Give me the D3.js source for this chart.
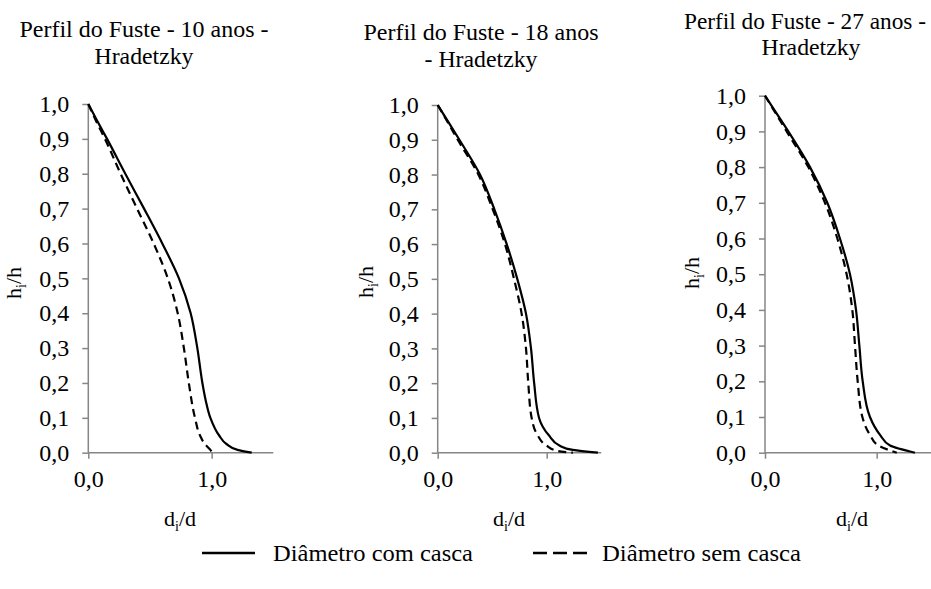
<!DOCTYPE html>
<html><head><meta charset="utf-8">
<script src="https://cdn.jsdelivr.net/npm/d3@7"></script>
<style>html,body{margin:0;padding:0;background:#fff;}svg{display:block;}</style>
</head><body>
<svg id="c" width="931" height="589"></svg>
<script>
// ---- data (x = d_i/d, y = h_i/h) ----
const yTicks = [0,0.1,0.2,0.3,0.4,0.5,0.6,0.7,0.8,0.9,1.0];
const xTicks = [0,1.0];
const seriesNames = ["Diâmetro com casca","Diâmetro sem casca"];
const titles10 = ["Perfil do Fuste - 10 anos -","Hradetzky"];
const titles18 = ["Perfil do Fuste - 18 anos","- Hradetzky"];
const titles27 = ["Perfil do Fuste - 27 anos -","Hradetzky"];

const comCasca10 = [[0,1],[0.075,0.95],[0.152,0.9],[0.30,0.8],[0.452,0.7],[0.60,0.6],[0.735,0.5],[0.83,0.4],[0.884,0.3],[0.925,0.2],[0.952,0.15],[0.99,0.1],[1.06,0.05],[1.12,0.025],[1.21,0.008],[1.325,0]];
const semCasca10 = [[0,1],[0.065,0.95],[0.135,0.9],[0.262,0.8],[0.395,0.7],[0.53,0.6],[0.645,0.5],[0.725,0.4],[0.775,0.3],[0.815,0.2],[0.865,0.1],[0.905,0.05],[0.945,0.025],[0.99,0.008],[1.006,0]];

const comCasca18 = [[0,1],[0.10,0.95],[0.199,0.9],[0.388,0.8],[0.52,0.7],[0.633,0.6],[0.73,0.5],[0.81,0.4],[0.856,0.3],[0.885,0.2],[0.93,0.1],[1.02,0.05],[1.12,0.02],[1.24,0.008],[1.47,0]];
const semCasca18 = [[0,1],[0.093,0.95],[0.184,0.9],[0.373,0.8],[0.505,0.7],[0.617,0.6],[0.70,0.5],[0.77,0.4],[0.81,0.3],[0.831,0.2],[0.862,0.1],[0.917,0.05],[1.0,0.02],[1.1,0.005],[1.24,0]];

const comCasca27 = [[0,1],[0.105,0.95],[0.209,0.9],[0.403,0.8],[0.558,0.7],[0.671,0.6],[0.761,0.5],[0.815,0.4],[0.845,0.3],[0.875,0.2],[0.94,0.1],[1.03,0.05],[1.12,0.02],[1.343,0]];
const semCasca27 = [[0,1],[0.097,0.95],[0.194,0.9],[0.388,0.8],[0.537,0.7],[0.648,0.6],[0.731,0.5],[0.782,0.4],[0.806,0.3],[0.83,0.2],[0.872,0.1],[0.94,0.05],[1.016,0.02],[1.18,0]];

// ---- font detection: prefer a Times-like serif if one is installed ----
function hasFont(f){
  const c = document.createElement("canvas").getContext("2d");
  const s = "Perfil do Fuste 0,123456789 Hradetzky WMi";
  for (const base of ["monospace","sans-serif"]) {
    c.font = `40px ${base}`; const w0 = c.measureText(s).width;
    c.font = `40px "${f}", ${base}`; const w1 = c.measureText(s).width;
    if (Math.abs(w1 - w0) > 0.5) return true;
  }
  return false;
}
const serifCandidates = ["Liberation Serif","Times New Roman","Tinos","Nimbus Roman","Nimbus Roman No9 L","FreeSerif","Noto Serif","DejaVu Serif","Times","Georgia","Noto Serif CJK SC","Noto Serif CJK JP","Source Han Serif SC"];
const found = serifCandidates.find(hasFont);
const FONT = found ? `"${found}", serif` : `"Liberation Sans", Arial, sans-serif`;
const FS = 24;
const TICK_FS = found ? 24 : 21;

// ---- layout ----
const panels = [
  {titles:titles10, tw:[249,99], com:comCasca10, sem:semCasca10, x0:88.3, x1:273.3, yTop:104, yBot:452.7, tx:[144,144], ty:[37,64], ylx:21, yly:283, xlx:180},
  {titles:titles18, tw:[235,113], com:comCasca18, sem:semCasca18, x0:437.7, x1:601.2, yTop:105, yBot:452.7, tx:[481,481], ty:[40,67], ylx:373, yly:282, xlx:509},
  {titles:titles27, tw:[242,99], com:comCasca27, sem:semCasca27, x0:765, x1:932.5, yTop:95.7, yBot:452.7, tx:[805,811], ty:[29,55], ylx:699, yly:273, xlx:852}
];
const axisColor = "#868686";
const fmt = v => d3.format(".1f")(v).replace(".", ",");

const svg = d3.select("#c").attr("font-family", FONT);

panels.forEach(p => {
  const g = svg.append("g");
  const x = d3.scaleLinear().domain([0,1.5]).range([p.x0,p.x1]);
  const y = d3.scaleLinear().domain([0,1]).range([p.yBot,p.yTop]);

  p.titles.forEach((t,i) => {
    g.append("text").attr("x",p.tx[i]).attr("y",p.ty[i]).attr("text-anchor","middle")
      .attr("font-size",FS).attr("fill","#000")
      .attr("textLength",p.tw[i]).attr("lengthAdjust","spacingAndGlyphs").text(t);
  });

  const ya = d3.axisLeft(y).tickValues(yTicks).tickFormat(fmt).tickSize(6).tickPadding(13);
  const yg = g.append("g").attr("transform",`translate(${p.x0},0)`).call(ya);
  const xa = d3.axisBottom(x).tickValues(xTicks).tickFormat(fmt).tickSize(6).tickPadding(11);
  const xg = g.append("g").attr("transform",`translate(0,${p.yBot})`).call(xa);
  [yg,xg].forEach(a => {
    a.attr("font-family",null).attr("font-size",null);
    a.select(".domain").attr("stroke",axisColor).attr("stroke-width",1.5);
    a.selectAll(".tick line").attr("stroke",axisColor).attr("stroke-width",1.5);
    a.selectAll(".tick text").attr("font-size",TICK_FS).attr("fill","#000");
  });
  yg.select(".domain").attr("d",`M0,${p.yBot}V${p.yTop}`);
  xg.select(".domain").attr("d",`M${p.x0},0H${p.x1}`);

  const line = d3.line().x(d=>x(d[0])).y(d=>y(d[1])).curve(d3.curveMonotoneY);
  g.append("path").datum(p.sem).attr("d",line).attr("fill","none").attr("stroke","#000")
    .attr("stroke-width",2.2).attr("stroke-dasharray","8,5");
  g.append("path").datum(p.com).attr("d",line).attr("fill","none").attr("stroke","#000")
    .attr("stroke-width",2.2);

  const yl = g.append("text").attr("transform",`translate(${p.ylx},${p.yly}) rotate(-90)`)
    .attr("text-anchor","middle").attr("font-size",22);
  yl.append("tspan").text("h");
  yl.append("tspan").attr("dy",5).attr("font-size",14).text("i");
  yl.append("tspan").attr("dy",-5).text("/h");

  const xl = g.append("text").attr("x",p.xlx).attr("y",526).attr("text-anchor","middle")
    .attr("font-size",22);
  xl.append("tspan").text("d");
  xl.append("tspan").attr("dy",5).attr("font-size",14).text("i");
  xl.append("tspan").attr("dy",-5).text("/d");
});

const legend = svg.append("g");
const legItems = [{name:seriesNames[0], x1:202, x2:255, tx:273, tl:200, dash:null},
                  {name:seriesNames[1], x1:533, x2:587, tx:602, tl:199, dash:"14,6"}];
legItems.forEach(it => {
  legend.append("line").attr("x1",it.x1).attr("x2",it.x2).attr("y1",553).attr("y2",553)
    .attr("stroke","#000").attr("stroke-width",2.5).attr("stroke-dasharray",it.dash);
  legend.append("text").attr("x",it.tx).attr("y",561).attr("font-size",FS)
    .attr("textLength",it.tl).attr("lengthAdjust","spacingAndGlyphs")
    .attr("fill","#000").text(it.name);
});
</script>
</body></html>
